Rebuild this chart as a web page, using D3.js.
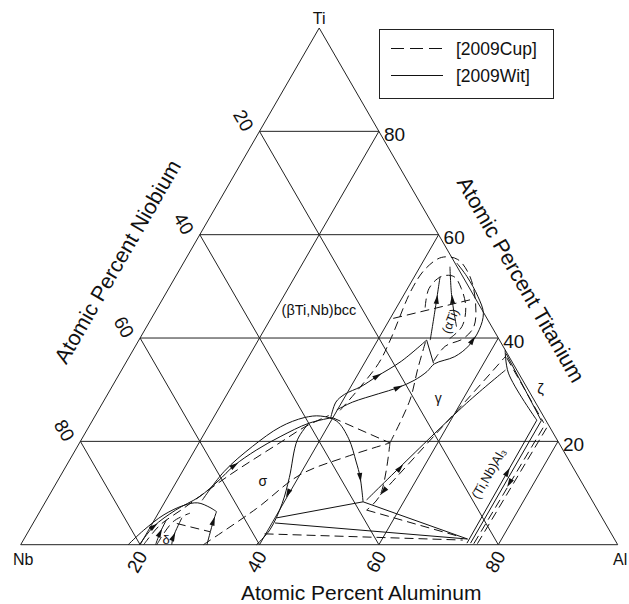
<!DOCTYPE html>
<html>
<head>
<meta charset="utf-8">
<script src="https://cdn.jsdelivr.net/npm/d3@7"></script>
<style>
  html, body { margin: 0; padding: 0; background: #fff; }
  svg { display: block; }
  text { font-family: "Liberation Sans", Arial, Helvetica, sans-serif; fill: #111; }
</style>
</head>
<body>
<svg id="chart" width="629" height="604"></svg>
<script>
// Ti–Nb–Al isothermal section. Compositions are [at.% Al, at.% Ti]; Nb is the balance.
const vertexLabels = ["Nb", "Al", "Ti"];
const gridTicks = [20, 40, 60, 80];
const axisTitles = ["Atomic Percent Aluminum", "Atomic Percent Niobium", "Atomic Percent Titanium"];
const legendSeries = ["[2009Cup]", "[2009Wit]"];

// [2009Wit] boundaries (solid)
const witDeltaHump   = [[18.0,0],[19.2,2.8],[21.1,5.8],[23.5,7.6],[25.6,8.1],[28.1,7.2],[29.6,6.4]];
const witDeltaLeft   = [[22.6,0],[22.2,2.2],[22.0,4.8]];
const witDeltaMid    = [[25.3,0],[24.8,1.5],[24.4,5.2]];
const witDeltaRight  = [[31.2,0],[30.0,4.5],[29.6,6.4]];
const witSigmaUpper  = [[19.9,0],[20.5,3.5],[22.6,6.7],[25.3,9.3],[26.9,12.3],[28.1,15.3],[30.3,18.3],[33.0,20.9],[36.5,23.5],[39.9,24.6]];
const witSigmaArc    = [[26.1,8.6],[27.0,14.2],[29.3,19.0],[32.1,22.8],[35.2,24.6],[37.8,24.9],[41.0,23.9],[44.7,20.5],[48.2,16.0],[50.3,13.1],[53.2,8.3]];
const witValleyUpper = [[39.7,24.4],[39.0,27.6],[39.7,29.1],[41.7,30.6],[43.4,32.6],[46.0,35.5],[48.2,39.6]];
const witValleyLower = [[39.9,26.1],[41.8,27.6],[45.3,29.2],[48.0,30.4],[50.0,31.8],[51.3,33.5],[51.8,35.0],[54.5,36.4],[55.8,38.5],[56.0,41.6],[55.1,44.8],[52.6,48.0],[48.8,51.9],[45.8,54.5]];
const witAlphaA      = [[48.8,39.6],[46.7,45.4],[44.3,51.9]];
const witAlphaB      = [[51.9,42.2],[48.2,48.0],[45.0,53.8]];
const witKnee        = [[48.2,39.6],[51.6,35.1]];
const witSigmaRight  = [[39.5,0],[40.3,2.9],[39.8,8.0],[38.5,13.0],[36.2,20.3],[36.5,23.5]];
const witTie1        = [[40.3,5.2],[53.2,8.3]];
const witTie2        = [[53.2,8.3],[74.3,1.1]];
const witTie3        = [[40.5,4.2],[74.3,1.1]];
const witToZeta      = [[53.6,8.65],[61.0,27.4],[64.3,33.8]];
const witAl3a        = [[74.6,0.3],[74.4,24.1]];
const witAl3b        = [[75.2,0.3],[75.2,24.0]];
const witZeta1       = [[62.3,37.7],[65.1,33.2],[74.4,24.1]];
const witZeta2       = [[62.8,37.0],[75.2,24.0]];

// [2009Cup] boundaries (dashed)
const cupSigmaLower  = [[20.6,0],[21.4,3.7],[23.8,7.1],[26.1,10.5],[28.5,13.8],[31.0,16.8],[33.6,19.8],[36.2,22.8],[39.1,25.0]];
const cupBase        = [[30.6,0],[36.0,7.0],[40.0,13.5],[46.0,17.0],[52.0,19.7]];
const cupPeakToJ     = [[39.9,24.6],[52.0,19.7]];
const cupJUp         = [[52.0,19.7],[51.2,28.0],[49.5,34.0],[48.0,40.0]];
const cupJDown       = [[52.0,19.7],[55.4,9.6],[54.6,6.7]];
const cupToZeta      = [[55.4,9.6],[60.7,28.0],[63.0,36.5]];
const cupTie1        = [[54.6,6.7],[72.8,1.55]];
const cupTie2        = [[39.8,2.1],[73.6,0.9]];
const cupOuter       = [[40.5,26],[41.5,30],[42.4,35.1],[42.1,39.6],[40.8,49.3],[41.1,53.4],[42.7,55.6],[45.6,55.2],[49.3,51.9],[52.9,46.6],[54.8,42.2],[54.2,39.9],[51.9,38.4],[51.4,35.5]];
const cupInner       = [[44.8,45.9],[43.6,49.6],[44.5,51.9],[46.6,51.9],[49.0,49.6],[51.6,45.9],[52.8,42.2],[51.9,39.9]];
const cupCross       = [[40.5,43.8],[51.6,47.4]];
const cupAl3a        = [[75.8,0.2],[76.2,23.5]];
const cupAl3b        = [[76.4,0.2],[76.8,23.0]];
const cupZeta        = [[63.3,36.2],[75.8,23.6]];
const cupDeltaTie    = [[24.1,4.1],[30.5,2.5]];
const cupDeltaArc    = [[22.8,0],[23.3,4.45],[25.3,6.1]];

// arrowheads: [position, point it heads toward]
const arrows = [
  [[20.5,3.5],[22.6,6.7]], [[28.1,15.3],[30.3,18.3]], [[22.2,2.2],[22.0,4.8]],
  [[24.8,1.5],[24.4,5.2]], [[30.0,4.5],[29.6,6.4]], [[39.8,10.0],[40.1,6.0]],
  [[50.3,13.1],[53.2,8.3]], [[43.4,32.6],[46.0,35.5]], [[48.0,30.4],[50.0,31.8]],
  [[46.0,47.4],[44.3,51.9]], [[48.6,47.4],[45.0,53.8]], [[55.9,39.5],[56.0,41.6]],
  [[56.1,14.8],[57.0,18.0]], [[55.6,10.4],[55.4,9.6]],
  [[74.5,14.0],[74.5,16.0]], [[75.9,12.0],[75.9,10.0]]
];

// phase-field labels: [text, Al, Ti, rotation, size]
const phaseLabels = [
  ["(\u03B2Ti,Nb)bcc", 27.2, 45.5, 0, 14.5],
  ["(\u03B1Ti)", 50.3, 43.3, -68, 12.5],
  ["\u03B3", 55.8, 28.3, 0, 14],
  ["\u03C3", 34.4, 12.3, 0, 14],
  ["\u03B4", 23.8, 1.1, 0, 13],
  ["\u03B6", 72.0, 30.2, 0, 15],
  ["(Ti,Nb)Al\u2083", 71.5, 13.8, -60, 13]
];

const svg = d3.select("#chart");
const side = 597, x0 = 20.7, yBase = 544.7, height = 516.7;
const sx = d3.scaleLinear().domain([0, 100]).range([0, side]);
const sy = d3.scaleLinear().domain([0, 100]).range([yBase, yBase - height]);
const px = (a, t) => x0 + sx(a) + sx(t) / 2;
const py = t => sy(t);

const smooth = d3.line().x(d => px(d[0], d[1])).y(d => py(d[1])).curve(d3.curveCatmullRom.alpha(0.5));
const straight = d3.line().x(d => px(d[0], d[1])).y(d => py(d[1]));

// triangle frame
const frame = [[0,0],[100,0],[0,100],[0,0]];
svg.append("path").attr("d", straight(frame)).attr("fill", "none").attr("stroke", "#222").attr("stroke-width", 1);

// grid lines for Ti, Al and Nb
const grid = svg.append("g").attr("stroke", "#222").attr("stroke-width", 1).attr("fill", "none");
gridTicks.forEach(k => {
  grid.append("path").attr("d", straight([[0,k],[100-k,k]]));
  grid.append("path").attr("d", straight([[k,0],[k,100-k]]));
  grid.append("path").attr("d", straight([[100-k,0],[0,100-k]]));
});

// boundaries
const solidSet = [witDeltaHump, witDeltaLeft, witDeltaMid, witDeltaRight, witSigmaUpper, witSigmaArc, witValleyUpper,
  witValleyLower, witAlphaA, witAlphaB, witKnee, witSigmaRight, witTie1, witTie2, witTie3, witToZeta,
  witAl3a, witAl3b, witZeta1, witZeta2];
const dashedSet = [cupSigmaLower, cupBase, cupPeakToJ, cupJUp, cupJDown, cupToZeta, cupTie1, cupTie2,
  cupOuter, cupInner, cupCross, cupAl3a, cupAl3b, cupZeta, cupDeltaTie, cupDeltaArc];

const curves = svg.append("g").attr("fill", "none").attr("stroke", "#111").attr("stroke-width", 1);
solidSet.forEach(c => curves.append("path").attr("d", (c.length > 2 ? smooth : straight)(c)));
dashedSet.forEach(c => curves.append("path").attr("d", (c.length > 2 ? smooth : straight)(c)).attr("stroke-dasharray", "9,5"));

// arrowheads
svg.append("g").selectAll("path").data(arrows).join("path")
  .attr("d", "M5,0 L-4,-2.6 L-4,2.6 Z")
  .attr("fill", "#111")
  .attr("transform", d => {
    const x1 = px(d[0][0], d[0][1]), y1 = py(d[0][1]);
    const x2 = px(d[1][0], d[1][1]), y2 = py(d[1][1]);
    const ang = Math.atan2(y2 - y1, x2 - x1) * 180 / Math.PI;
    return `translate(${x1},${y1}) rotate(${ang})`;
  });

// phase labels
svg.append("g").selectAll("text").data(phaseLabels).join("text")
  .attr("transform", d => `translate(${px(d[1], d[2])},${py(d[2])}) rotate(${d[3]})`)
  .attr("text-anchor", "middle").attr("dy", "0.35em")
  .attr("font-size", d => d[4])
  .text(d => d[0]);

// vertex labels
svg.append("text").attr("x", px(0,0) + 2.5).attr("y", yBase + 20).attr("text-anchor", "middle").attr("font-size", 16).text(vertexLabels[0]);
svg.append("text").attr("x", px(100,0) + 2.5).attr("y", yBase + 20).attr("text-anchor", "middle").attr("font-size", 16).text(vertexLabels[1]);
svg.append("text").attr("x", px(0,100)).attr("y", py(100) - 4).attr("text-anchor", "middle").attr("font-size", 16).text(vertexLabels[2]);

// tick labels
const ticks = svg.append("g").attr("font-size", 19);
gridTicks.forEach(k => {
  // Ti along the right edge
  ticks.append("text").attr("x", px(100-k, k) + 5).attr("y", py(k) + 3)
    .attr("dy", "0.35em").text(k);
  // Nb along the left edge
  const lx = px(0, 100-k) - 16, ly = py(100-k) - 11;
  ticks.append("text").attr("transform", `translate(${lx},${ly}) rotate(60)`)
    .attr("text-anchor", "middle").attr("dy", "0.35em").text(k);
  // Al along the base
  const bx = px(k, 0) - 3, by = yBase + 17;
  ticks.append("text").attr("transform", `translate(${bx},${by}) rotate(-60)`)
    .attr("text-anchor", "middle").attr("dy", "0.35em").text(k);
});

// axis titles
const titles = svg.append("g").attr("font-size", 21.5).attr("text-anchor", "middle");
titles.append("text").attr("x", px(50,0) + 42).attr("y", yBase + 55.5).attr("font-size", 21).text(axisTitles[0]);
titles.append("text").attr("transform", `translate(117.5,261.5) rotate(-60)`).attr("dy", "0.35em").text(axisTitles[1]);
titles.append("text").attr("transform", `translate(521,279.5) rotate(60)`).attr("dy", "0.35em").text(axisTitles[2]);

// legend
const lg = svg.append("g");
lg.append("rect").attr("x", 379.5).attr("y", 29.5).attr("width", 174).attr("height", 69)
  .attr("fill", "#fff").attr("stroke", "#222").attr("stroke-width", 1);
[0, 1].forEach(i => {
  const y = 48.5 + i * 27;
  lg.append("line").attr("x1", 391).attr("x2", 443).attr("y1", y).attr("y2", y)
    .attr("stroke", "#111").attr("stroke-width", 1).attr("stroke-dasharray", i === 0 ? "13,6" : null);
  lg.append("text").attr("x", 456).attr("y", y).attr("dy", "0.35em").attr("font-size", 17.5).text(legendSeries[i]);
});
</script>
</body>
</html>
